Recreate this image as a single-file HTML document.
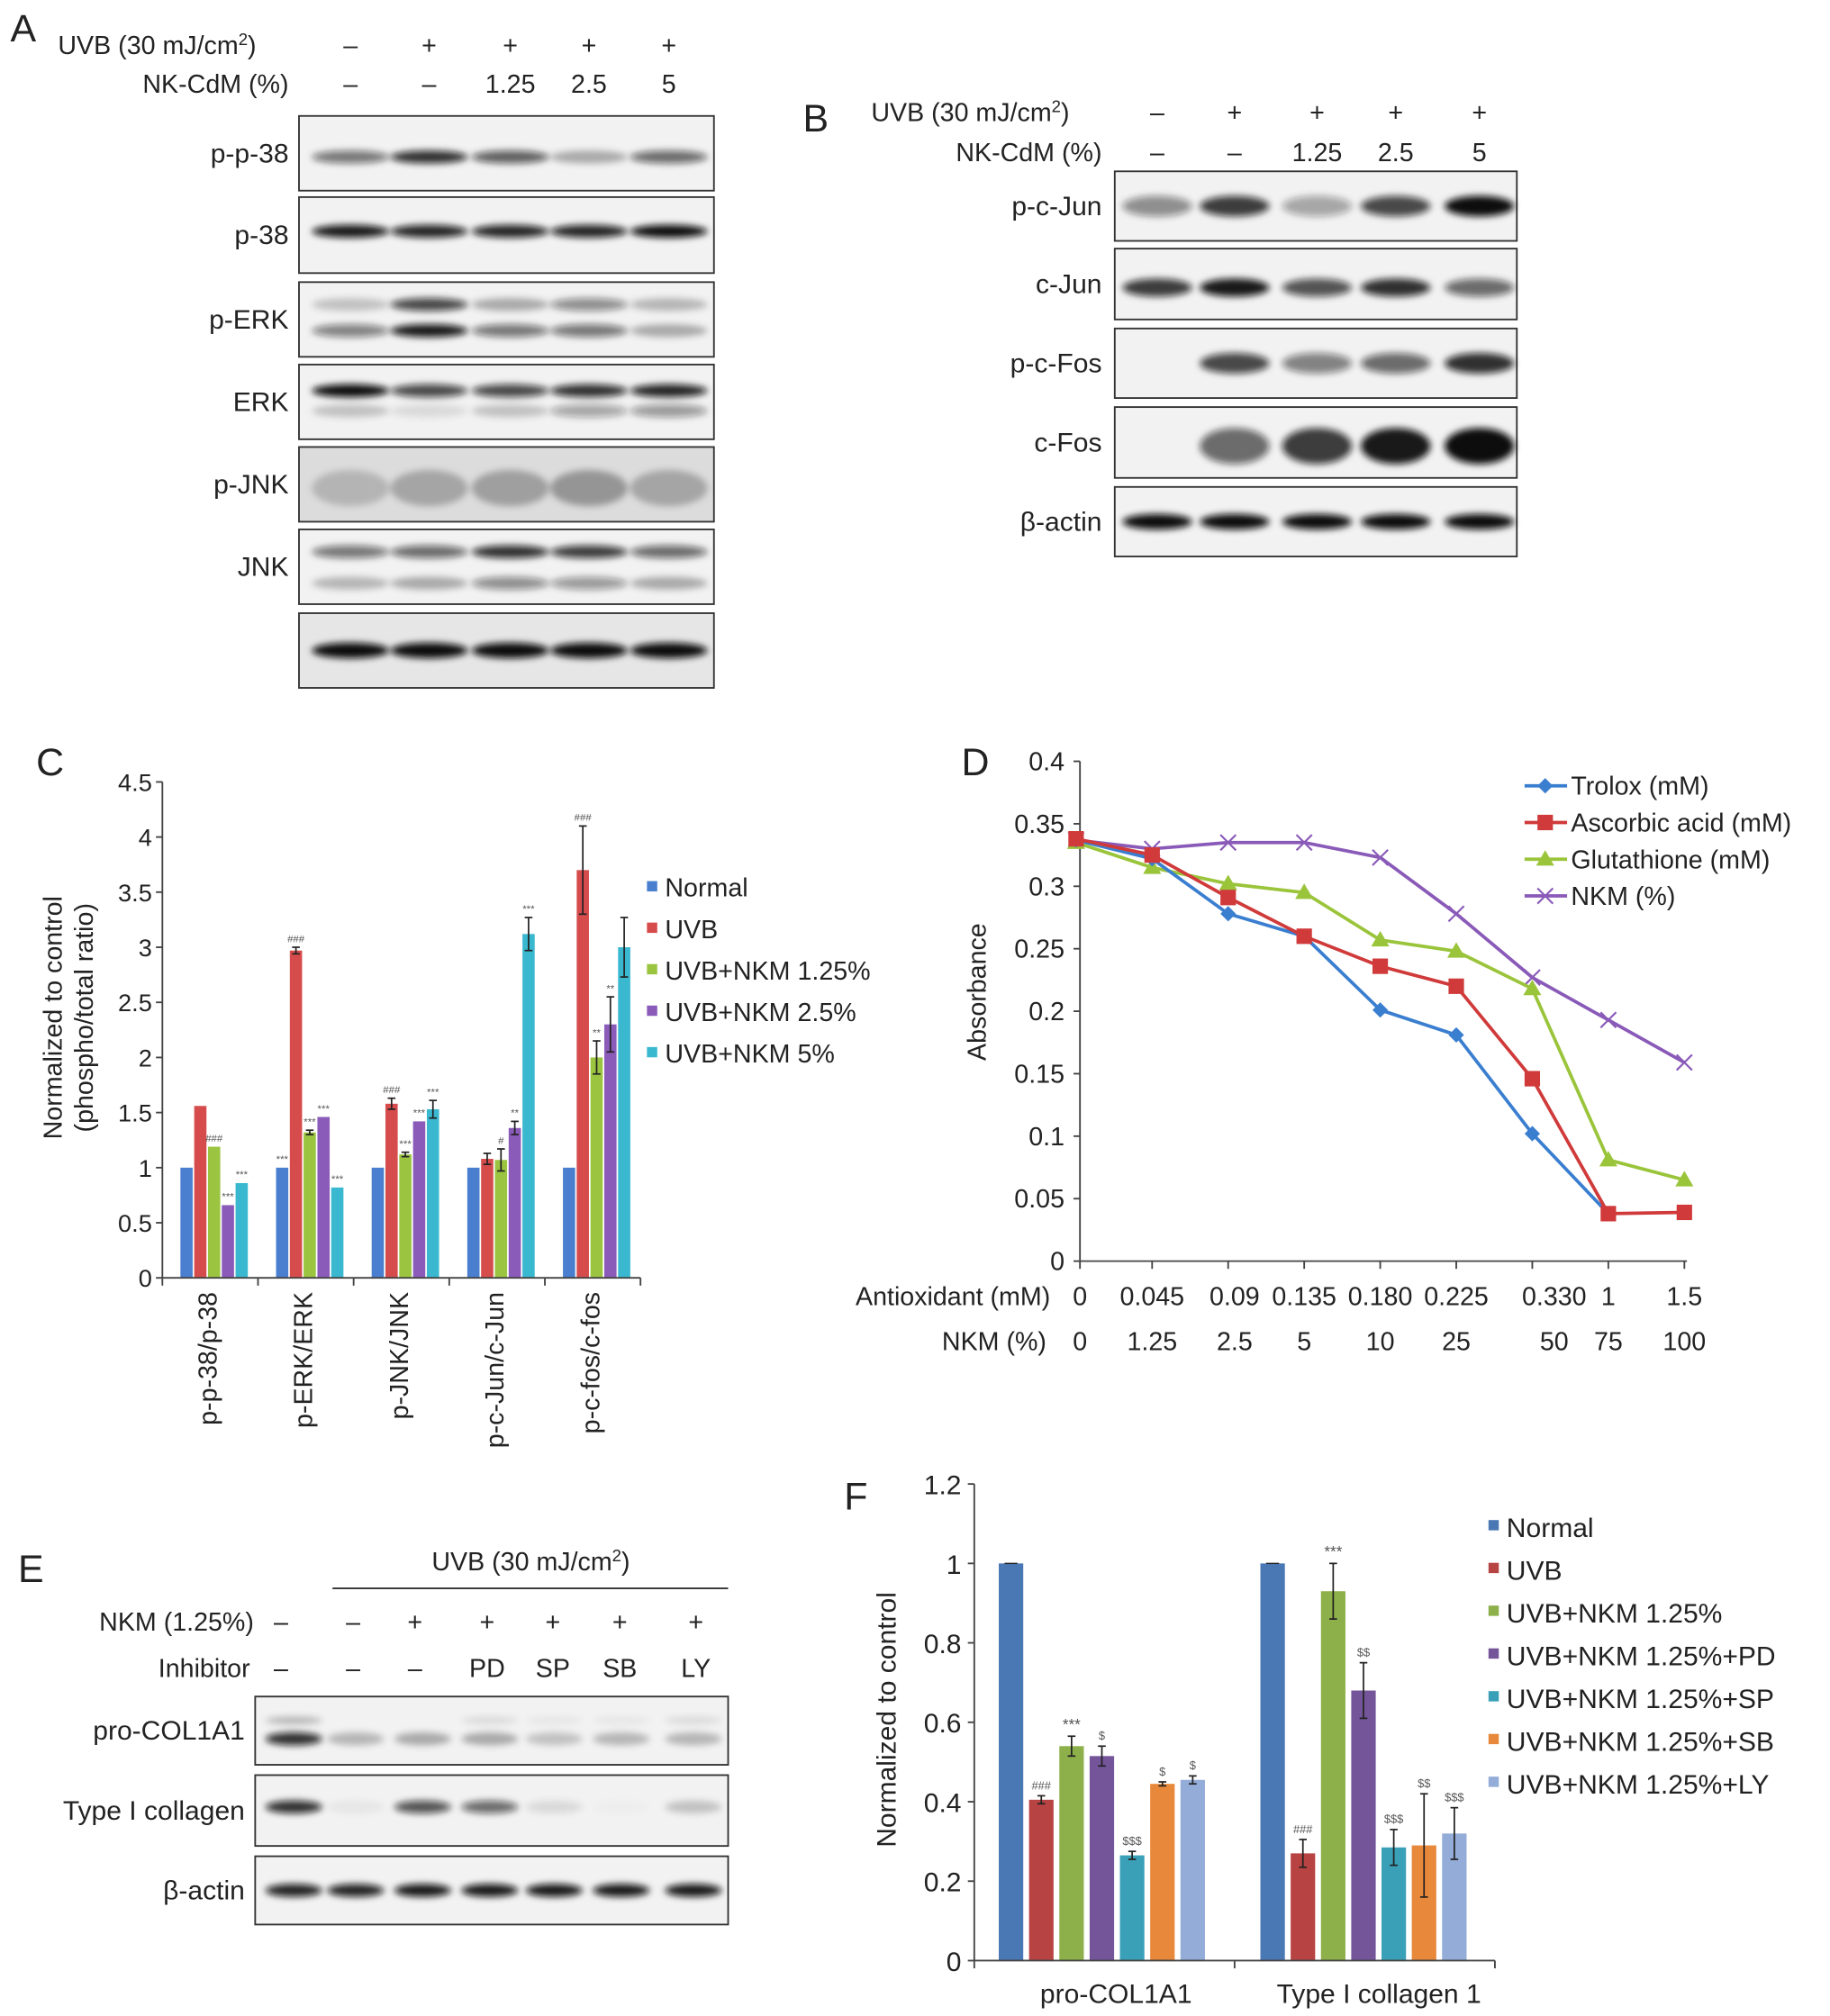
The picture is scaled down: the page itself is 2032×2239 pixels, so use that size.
<!DOCTYPE html>
<html><head><meta charset="utf-8"><style>
html,body{margin:0;padding:0;background:#fff;}
svg{display:block;font-family:"Liberation Sans",Arial,sans-serif;}
</style></head><body>
<svg id="fig" width="2032" height="2239" viewBox="0 0 1420 1565" preserveAspectRatio="none" xmlns="http://www.w3.org/2000/svg">
<defs><filter id="blur" x="-30%" y="-100%" width="160%" height="300%"><feGaussianBlur stdDeviation="2.6"/></filter></defs>
</svg>
<script>
// ---------- Panel C data ----------
const cCategories = ["p-p-38/p-38","p-ERK/ERK","p-JNK/JNK","p-c-Jun/c-Jun","p-c-fos/c-fos"];
const cSeriesNames = ["Normal","UVB","UVB+NKM 1.25%","UVB+NKM 2.5%","UVB+NKM 5%"];
const cNormal = [1,1,1,1,1];
const cUVB = [1.56,2.97,1.58,1.08,3.7];
const cNKM125 = [1.19,1.32,1.12,1.07,2.0];
const cNKM25 = [0.66,1.46,1.42,1.36,2.3];
const cNKM5 = [0.86,0.82,1.53,3.12,3.0];
const cErrNormal = [0,0,0,0,0];
const cErrUVB = [0,0.03,0.05,0.05,0.4];
const cErr125 = [0,0.02,0.02,0.1,0.15];
const cErr25 = [0,0,0,0.06,0.25];
const cErr5 = [0,0,0.08,0.15,0.27];
const cAnnNormal = ["","***","","",""];
const cAnnUVB = ["","###","###","","###"];
const cAnn125 = ["###","***","***","#","**"];
const cAnn25 = ["***","***","***","**","**"];
const cAnn5 = ["***","***","***","***",""];
const cTicks = [0,0.5,1,1.5,2,2.5,3,3.5,4,4.5];
const cTickLabels = ["0","0.5","1","1.5","2","2.5","3","3.5","4","4.5"];

// ---------- Panel D data ----------
const dAntioxLabels = ["0","0.045","0.09","0.135","0.180","0.225","0.330","1","1.5"];
const dNkmLabels = ["0","1.25","2.5","5","10","25","50","75","100"];
const dTrolox = [0.337,0.322,0.278,0.260,0.201,0.181,0.102,0.038,null];
const dAscorbic = [0.338,0.325,0.291,0.260,0.236,0.220,0.146,0.038,0.039];
const dGlutathione = [0.335,0.315,0.302,0.295,0.257,0.248,0.218,0.081,0.065];
const dNKM = [0.337,0.330,0.335,0.335,0.323,0.278,0.227,0.193,0.159];
const dSeriesNames = ["Trolox (mM)","Ascorbic acid (mM)","Glutathione (mM)","NKM (%)"];
const dTicks = [0,0.05,0.1,0.15,0.2,0.25,0.3,0.35,0.4];
const dTickLabels = ["0","0.05","0.1","0.15","0.2","0.25","0.3","0.35","0.4"];

// ---------- Panel F data ----------
const fCategories = ["pro-COL1A1","Type I collagen 1"];
const fSeriesNames = ["Normal","UVB","UVB+NKM 1.25%","UVB+NKM 1.25%+PD","UVB+NKM 1.25%+SP","UVB+NKM 1.25%+SB","UVB+NKM 1.25%+LY"];
const fNormal = [1,1];
const fUVB = [0.405,0.27];
const fNKM = [0.54,0.93];
const fPD = [0.515,0.68];
const fSP = [0.265,0.285];
const fSB = [0.445,0.29];
const fLY = [0.455,0.32];
const fErrNormal = [0,0];
const fErrUVB = [0.01,0.035];
const fErrNKM = [0.025,0.07];
const fErrPD = [0.025,0.07];
const fErrSP = [0.01,0.045];
const fErrSB = [0.005,0.13];
const fErrLY = [0.01,0.065];
const fAnnNormal = ["",""];
const fAnnUVB = ["###","###"];
const fAnnNKM = ["***","***"];
const fAnnPD = ["$","$$"];
const fAnnSP = ["$$$","$$$"];
const fAnnSB = ["$","$$"];
const fAnnLY = ["$","$$$"];
const fTicks = [0,0.2,0.4,0.6,0.8,1,1.2];
const fTickLabels = ["0","0.2","0.4","0.6","0.8","1","1.2"];

const NS="http://www.w3.org/2000/svg";
const svg=document.getElementById('fig');
function el(tag,attrs,parent){const e=document.createElementNS(NS,tag);for(const k in attrs)e.setAttribute(k,attrs[k]);(parent||svg).appendChild(e);return e;}
function txt(s,x,y,size,anchor,parent,extra){const t=el('text',Object.assign({x:x,y:y,'font-size':size,'text-anchor':anchor||'start',fill:'#222'},extra||{}),parent);t.textContent=s;return t;}

// ================= Western blots =================
function blotPanel(groupName,x0,x1,rows,lanes,bandW){
  const g=el('g',{});
  
  
  rows.forEach(r=>{
    const rg=el('g',{},g);
    
    
    el('rect',{x:x0,y:r.y0,width:x1-x0,height:r.y1-r.y0,fill:r.bg||'#f2f2f2',stroke:'#333','stroke-width':1.3},rg);
    r.bands.forEach(b=>{
      lanes.forEach((lx,i)=>{
        const v=b.v[i]; if(!v) return;
        el('ellipse',{cx:lx,cy:r.y0+(r.y1-r.y0)*b.f,rx:bandW,ry:b.h||5,fill:'#111','fill-opacity':v,filter:'url(#blur)'},rg);
      });
    });
    if(r.label){const t=txt(r.label,r.lx,(r.y0+r.y1)/2+7,21,'end',rg);}
  });
  return g;
}
// Panel A
txt('A',8,32,30,'start');
const aLanes=[272,333,396,457,519];
const aHead=el('g',{});


const uA=txt('UVB (30 mJ/cm',45,42,20,'start',aHead);
const sA=el('tspan',{'font-size':13,dy:-7},uA);sA.textContent='2';
const sA2=el('tspan',{dy:7},uA);sA2.textContent=')';
txt('NK-CdM (%)',224,72,20,'end',aHead);
['–','+','+','+','+'].forEach((s,i)=>txt(s,aLanes[i],42,20,'middle',aHead));
['–','–','1.25','2.5','5'].forEach((s,i)=>txt(s,aLanes[i],72,20,'middle',aHead));
blotPanel('panel-a-blots',232,554,[
 {name:'p-p-38-blot',label:'p-p-38',lx:224,y0:90,y1:148,bands:[{f:0.55,v:[0.55,0.85,0.65,0.3,0.6]}]},
 {name:'p-38-blot',label:'p-38',lx:224,y0:153,y1:212,bands:[{f:0.45,v:[0.95,0.9,0.9,0.9,1]}]},
 {name:'p-ERK-blot',label:'p-ERK',lx:224,y0:219,y1:277,bands:[{f:0.3,v:[0.2,0.75,0.3,0.45,0.25]},{f:0.65,v:[0.5,0.95,0.55,0.55,0.3]}]},
 {name:'ERK-blot',label:'ERK',lx:224,y0:283,y1:341,bands:[{f:0.35,v:[1,0.75,0.75,0.85,0.9]},{f:0.62,v:[0.2,0.1,0.2,0.35,0.4]}]},
 {name:'p-JNK-blot',label:'p-JNK',lx:224,y0:347,y1:405,bg:'#dcdcdc',bands:[{f:0.55,v:[0.18,0.25,0.28,0.32,0.25],h:14}]},
 {name:'JNK-blot',label:'JNK',lx:224,y0:411,y1:469,bands:[{f:0.3,v:[0.55,0.6,0.85,0.8,0.6]},{f:0.72,v:[0.25,0.3,0.45,0.4,0.3]}]},
 {name:'loading-control-blot',label:'',lx:224,y0:476,y1:534,bg:'#e6e6e6',bands:[{f:0.5,v:[1,1,1,1,1],h:6}]}
],aLanes,30);

// Panel B
txt('B',623,102,30,'start');
const bLanes=[898,958,1022,1083,1148];
const bHead=el('g',{});


const uB=txt('UVB (30 mJ/cm',676,94,20,'start',bHead);
const sB=el('tspan',{'font-size':13,dy:-7},uB);sB.textContent='2';
const sB2=el('tspan',{dy:7},uB);sB2.textContent=')';
txt('NK-CdM (%)',855,125,20,'end',bHead);
['–','+','+','+','+'].forEach((s,i)=>txt(s,bLanes[i],94,20,'middle',bHead));
['–','–','1.25','2.5','5'].forEach((s,i)=>txt(s,bLanes[i],125,20,'middle',bHead));
blotPanel('panel-b-blots',865,1177,[
 {name:'p-c-Jun-blot',label:'p-c-Jun',lx:855,y0:133,y1:187,bands:[{f:0.5,v:[0.45,0.8,0.35,0.75,1],h:8}]},
 {name:'c-Jun-blot',label:'c-Jun',lx:855,y0:193,y1:248,bands:[{f:0.55,v:[0.8,0.95,0.7,0.85,0.6],h:7}]},
 {name:'p-c-Fos-blot',label:'p-c-Fos',lx:855,y0:255,y1:309,bands:[{f:0.5,v:[0,0.75,0.5,0.6,0.85],h:8}]},
 {name:'c-Fos-blot',label:'c-Fos',lx:855,y0:316,y1:371,bands:[{f:0.55,v:[0,0.6,0.8,0.95,1],h:14}]},
 {name:'beta-actin-blot-b',label:'β-actin',lx:855,y0:378,y1:432,bands:[{f:0.5,v:[1,1,1,1,1],h:6}]}
],bLanes,27);

// Panel E
txt('E',14,1228,30,'start');
const eLanes=[228,276,328,380,430,482,538];
const eHead=el('g',{});


const uE=txt('UVB (30 mJ/cm',335,1219,20,'start',eHead);
const sE=el('tspan',{'font-size':13,dy:-7},uE);sE.textContent='2';
const sE2=el('tspan',{dy:7},uE);sE2.textContent=')';
el('line',{x1:258,y1:1233,x2:565,y2:1233,stroke:'#333','stroke-width':1.3},eHead);
txt('NKM (1.25%)',197,1266,20,'end',eHead);
txt('Inhibitor',194,1302,20,'end',eHead);
const eNkmRow=['–','–','+','+','+','+','+'];
const eInhRow=['–','–','–','PD','SP','SB','LY'];
const eRowX=[218,274,322,378,429,481,540];
eNkmRow.forEach((s,i)=>txt(s,eRowX[i],1266,20,'middle',eHead));
eInhRow.forEach((s,i)=>txt(s,eRowX[i],1302,20,'middle',eHead));
blotPanel('panel-e-blots',198,565,[
 {name:'pro-COL1A1-blot',label:'pro-COL1A1',lx:190,y0:1317,y1:1370,bands:[{f:0.35,v:[0.25,0,0,0.1,0.05,0.05,0.1],h:3},{f:0.62,v:[0.85,0.25,0.3,0.3,0.2,0.25,0.25],h:5}]},
 {name:'type-I-collagen-blot',label:'Type I collagen',lx:190,y0:1378,y1:1433,bands:[{f:0.45,v:[0.85,0.05,0.7,0.6,0.1,0.02,0.2],h:5}]},
 {name:'beta-actin-blot-e',label:'β-actin',lx:190,y0:1441,y1:1494,bands:[{f:0.5,v:[0.9,0.9,0.95,0.95,0.95,0.95,0.95],h:5}]}
],eLanes,22);

// ================= Panel C =================
(function(){
  const g=el('g',{});
  
  
  txt('C',28,602,30,'start',g);
  const X0=126,X1=497,Y0=992,YT=607,VMAX=4.5;
  const y=v=>Y0-v*(Y0-YT)/VMAX;
  const gw=(X1-X0)/cCategories.length;
  const bx=(gi,si)=>X0+gi*gw+14+si*10.7;
  const series=[cNormal,cUVB,cNKM125,cNKM25,cNKM5];
  const errs=[cErrNormal,cErrUVB,cErr125,cErr25,cErr5];
  const anns=[cAnnNormal,cAnnUVB,cAnn125,cAnn25,cAnn5];
  const colors=['#4a7fd0','#d64c4c','#9bc440','#8a5bb8','#3ab8d0'];
  series.forEach((s,si)=>{
    s.forEach((v,gi)=>{
      const r=el('rect',{x:bx(gi,si),y:y(v),width:9.5,height:Y0-y(v),fill:colors[si]},g);
      
      
      const e=errs[si][gi], cx=bx(gi,si)+4.75;
      if(e>0){
        el('line',{x1:cx,y1:y(v+e),x2:cx,y2:y(v-e),stroke:'#222','stroke-width':1.2},g);
        el('line',{x1:cx-3,y1:y(v+e),x2:cx+3,y2:y(v+e),stroke:'#222','stroke-width':1.2},g);
        el('line',{x1:cx-3,y1:y(v-e),x2:cx+3,y2:y(v-e),stroke:'#222','stroke-width':1.2},g);
      }
      if(anns[si][gi]) txt(anns[si][gi],cx,y(v+e)-4,8,'middle',g,{fill:'#555'});
    });
  });
  el('line',{x1:X0,y1:YT,x2:X0,y2:Y0,stroke:'#444','stroke-width':1.3},g);
  el('line',{x1:X0,y1:Y0,x2:X1,y2:Y0,stroke:'#444','stroke-width':1.3},g);
  cTicks.forEach((t,i)=>{
    el('line',{x1:X0-5,y1:y(t),x2:X0,y2:y(t),stroke:'#444','stroke-width':1.3},g);
    txt(cTickLabels[i],X0-8,y(t)+7,19,'end',g);
  });
  for(let i=0;i<=cCategories.length;i++) el('line',{x1:X0+i*gw,y1:Y0,x2:X0+i*gw,y2:Y0+6,stroke:'#444','stroke-width':1.3},g);
  cCategories.forEach((c,gi)=>{
    const cx=X0+gi*gw+gw/2-2;
    const t=txt(c,0,0,20,'end',g,{transform:`translate(${cx+7},1003) rotate(-90)`});
    
    
  });
  const yt=txt('Normalized to control',0,0,20,'middle',g,{transform:'translate(48,790) rotate(-90)'});
  
  txt('(phospho/total ratio)',0,0,20,'middle',g,{transform:'translate(72,790) rotate(-90)'});
  cSeriesNames.forEach((n,i)=>{
    const lg=el('g',{},g);
    
    
    const ly=689+i*32.2;
    el('rect',{x:502,y:ly-5,width:8,height:8,fill:colors[i]},lg);
    txt(n,516,ly+7,20,'start',lg);
  });
})();

// ================= Panel D =================
(function(){
  const g=el('g',{});
  
  
  txt('D',746,602,30,'start',g);
  const X0=835,DX=59,Y0=979,YT=591,VMAX=0.4;
  const y=v=>Y0-v*(Y0-YT)/VMAX;
  const x=i=>X0+i*DX;
  el('line',{x1:838,y1:YT,x2:838,y2:Y0,stroke:'#444','stroke-width':1.3},g);
  el('line',{x1:838,y1:Y0,x2:x(dNkmLabels.length-1)+2,y2:Y0,stroke:'#444','stroke-width':1.3},g);
  dTicks.forEach((t,i)=>{
    el('line',{x1:833,y1:y(t),x2:838,y2:y(t),stroke:'#444','stroke-width':1.3},g);
    txt(dTickLabels[i],826,y(t)+7,20,'end',g);
  });
  dAntioxLabels.forEach((s,i)=>{
    el('line',{x1:x(i)+(i==0?3:0),y1:Y0,x2:x(i)+(i==0?3:0),y2:Y0+6,stroke:'#444','stroke-width':1.3},g);
    const off=(i==6?17:(i==2?5:0))+(i==0?3:0);
    txt(s,x(i)+off,1013,20,'middle',g);
    txt(dNkmLabels[i],x(i)+off,1048,20,'middle',g);
  });
  txt('Antioxidant (mM)',815,1013,20,'end',g);
  txt('NKM (%)',812,1048,20,'end',g);
  const yt=txt('Absorbance',0,0,20,'middle',g,{transform:'translate(765,770) rotate(-90)'});
  
  const series=[dTrolox,dAscorbic,dGlutathione,dNKM];
  const colors=['#3a7ed0','#d03a3a','#9ac43a','#8a5ab8'];
  function marker(type,cx,cy,c,parent){
    if(type==0) el('path',{d:`M${cx} ${cy-6}L${cx+6} ${cy}L${cx} ${cy+6}L${cx-6} ${cy}Z`,fill:c},parent);
    else if(type==1) el('rect',{x:cx-6,y:cy-6,width:12,height:12,fill:c},parent);
    else if(type==2) el('path',{d:`M${cx} ${cy-7}L${cx+7} ${cy+5}L${cx-7} ${cy+5}Z`,fill:c},parent);
    else el('path',{d:`M${cx-6} ${cy-6}L${cx+6} ${cy+6}M${cx+6} ${cy-6}L${cx-6} ${cy+6}`,stroke:c,'stroke-width':1.5,fill:'none'},parent);
  }
  [3,2,0,1].forEach(si=>{
    const s=series[si];
    const sg=el('g',{},g);
    
    
    let d='';
    s.forEach((v,i)=>{ if(v==null) return; d+=(d?'L':'M')+x(i)+' '+y(v); });
    el('path',{d:d,fill:'none',stroke:colors[si],'stroke-width':2.6},sg);
    s.forEach((v,i)=>{ if(v==null) return; marker(si,x(i),y(v),colors[si],sg); });
  });
  dSeriesNames.forEach((n,i)=>{
    const lg=el('g',{},g);
    
    
    const ly=610+i*28.5;
    el('line',{x1:1183,y1:ly,x2:1216,y2:ly,stroke:colors[i],'stroke-width':2.6},lg);
    marker(i,1199,ly,colors[i],lg);
    txt(n,1219,ly+7,20,'start',lg);
  });
})();

// ================= Panel F =================
(function(){
  const g=el('g',{});
  
  
  txt('F',655,1172,30,'start',g);
  const X0=756,X1=1160,Y0=1522,YT=1152,VMAX=1.2;
  const y=v=>Y0-v*(Y0-YT)/VMAX;
  const bx=(gi,si)=>X0+19+gi*203+si*23.5;
  const series=[fNormal,fUVB,fNKM,fPD,fSP,fSB,fLY];
  const errs=[fErrNormal,fErrUVB,fErrNKM,fErrPD,fErrSP,fErrSB,fErrLY];
  const anns=[fAnnNormal,fAnnUVB,fAnnNKM,fAnnPD,fAnnSP,fAnnSB,fAnnLY];
  const colors=['#4a78b5','#b84343','#8db04a','#74559a','#3aa0b8','#e8883a','#94acd8'];
  series.forEach((s,si)=>{
    s.forEach((v,gi)=>{
      const r=el('rect',{x:bx(gi,si),y:y(v),width:19,height:Y0-y(v),fill:colors[si]},g);
      
      
      const e=errs[si][gi], cx=bx(gi,si)+9.5;
      if(e>0){
        el('line',{x1:cx,y1:y(v+e),x2:cx,y2:y(v-e),stroke:'#222','stroke-width':1.2},g);
        el('line',{x1:cx-3,y1:y(v+e),x2:cx+3,y2:y(v+e),stroke:'#222','stroke-width':1.2},g);
        el('line',{x1:cx-3,y1:y(v-e),x2:cx+3,y2:y(v-e),stroke:'#222','stroke-width':1.2},g);
      } else {
        el('line',{x1:cx-5,y1:y(v),x2:cx+5,y2:y(v),stroke:'#222','stroke-width':1},g);
      }
      if(anns[si][gi]) txt(anns[si][gi],cx,y(v+e)-5,(anns[si][gi]=='***'?12:9),'middle',g,{fill:'#555'});
    });
  });
  el('line',{x1:X0,y1:YT,x2:X0,y2:Y0,stroke:'#444','stroke-width':1.3},g);
  el('line',{x1:X0,y1:Y0,x2:X1,y2:Y0,stroke:'#444','stroke-width':1.3},g);
  fTicks.forEach((t,i)=>{
    el('line',{x1:X0-5,y1:y(t),x2:X0,y2:y(t),stroke:'#444','stroke-width':1.3},g);
    txt(fTickLabels[i],X0-10,y(t)+8,21,'end',g);
  });
  [X0,958,X1].forEach(xx=>el('line',{x1:xx,y1:Y0,x2:xx,y2:Y0+6,stroke:'#444','stroke-width':1.3},g));
  fCategories.forEach((c,gi)=>{
    const t=txt(c,[866,1070][gi],1555,21,'middle',g);
    
    
  });
  const yt=txt('Normalized to control',0,0,21,'middle',g,{transform:'translate(695,1335) rotate(-90)'});
  
  fSeriesNames.forEach((n,i)=>{
    const lg=el('g',{},g);
    
    
    const ly=1185+i*33.2;
    el('rect',{x:1155,y:ly-5,width:8,height:8,fill:colors[i]},lg);
    txt(n,1169,ly+8,21,'start',lg);
  });
})();
</script>
</body></html>
